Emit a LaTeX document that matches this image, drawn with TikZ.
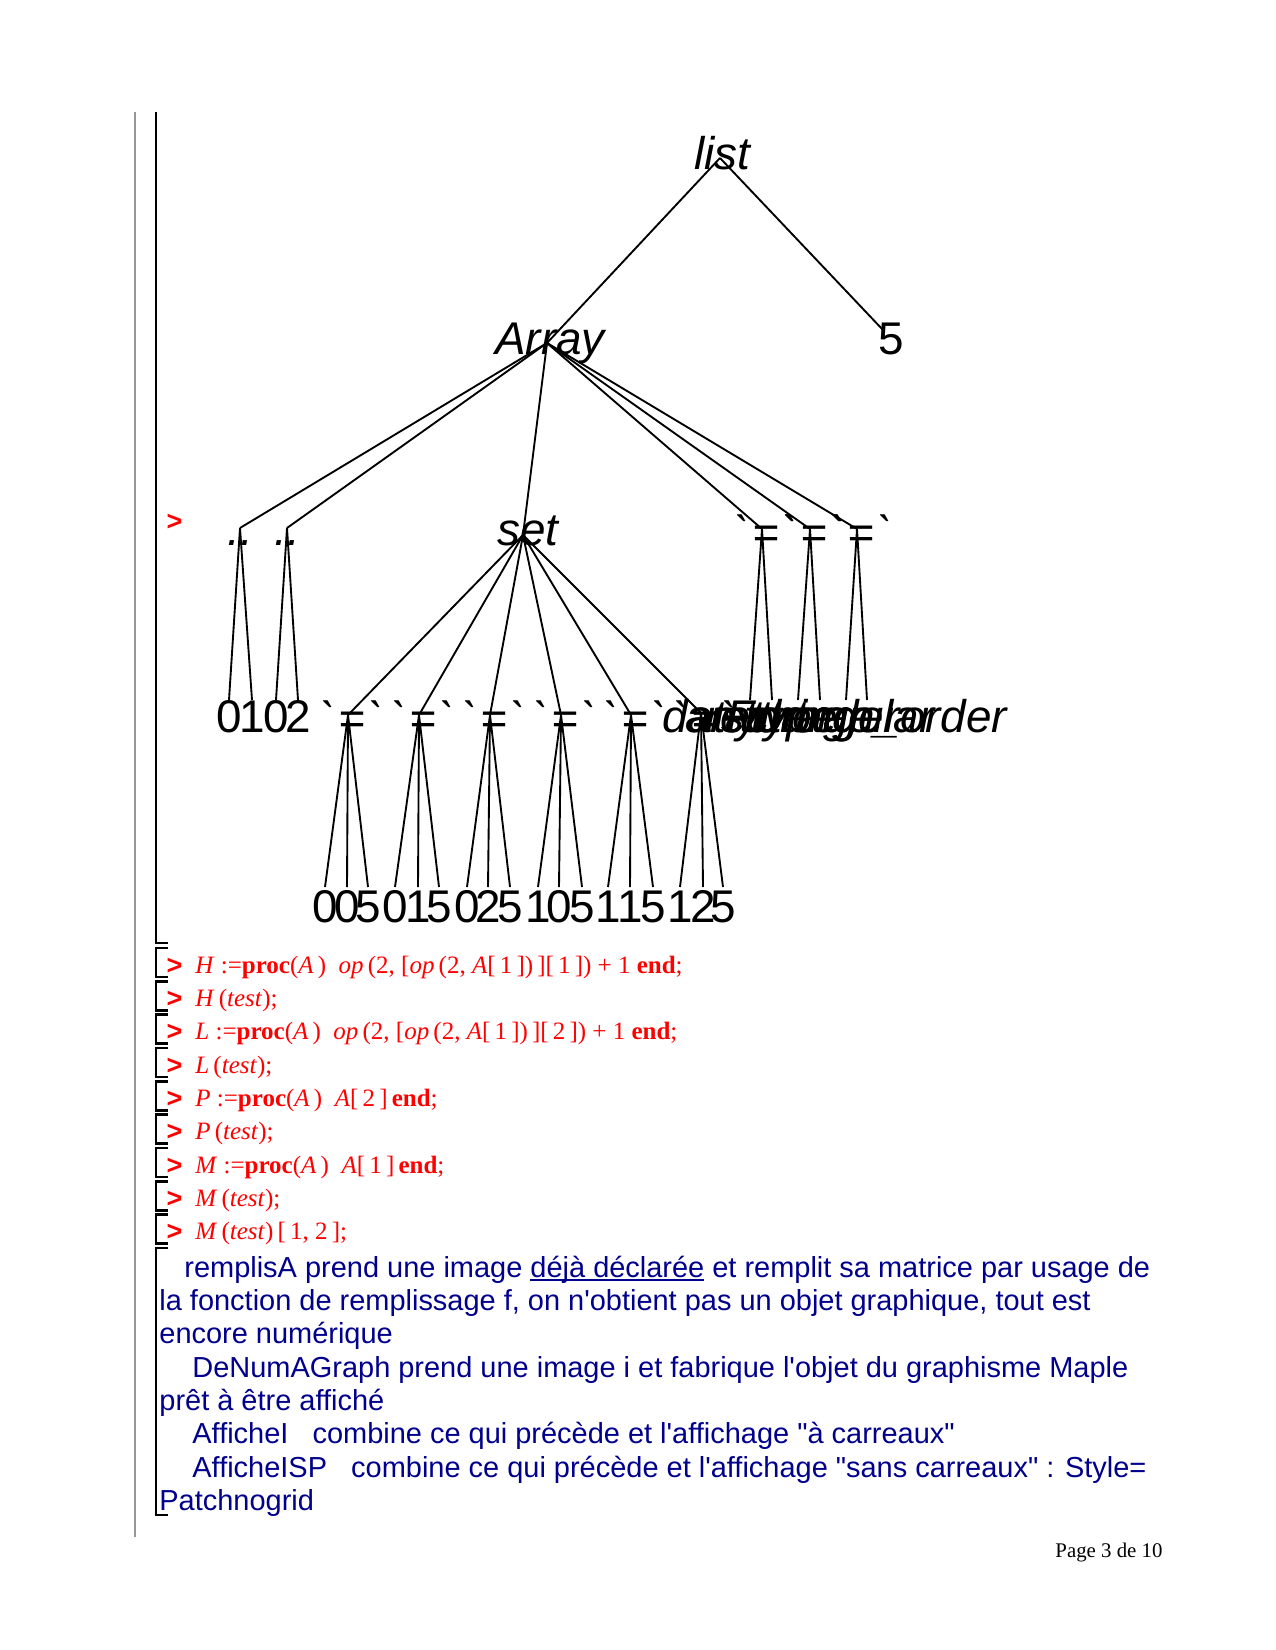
\documentclass[tikz,border=0pt]{standalone}
\usepackage{fontspec}
\newfontfamily\treefont{Liberation Sans}
\newfontfamily\descfont{Liberation Sans}
\newfontfamily\codefont{Liberation Serif}
\newfontfamily\promptfont{Liberation Sans}
\definecolor{navytxt}{RGB}{0,0,140}
\definecolor{mapred}{RGB}{255,0,0}
\definecolor{bargray}{RGB}{150,150,150}
\newcommand{\ulword}[1]{\setbox0\hbox{#1}\rlap{\rule[-1.8pt]{\wd0}{0.8pt}}\box0\relax}
\newcommand{\bteq}{`\kern1.5pt=\kern1.5pt`}
\tikzset{
  edge/.style={line width=0.9pt, black},
  tl/.style={font=\treefont\fontsize{22}{26}\selectfont\itshape, inner sep=0pt, anchor=base},
  tn/.style={font=\treefont\fontsize{22}{26}\selectfont, inner sep=0pt, anchor=base},
  brk/.style={line width=1.2pt, black},
  prompt/.style={font=\promptfont\bfseries\fontsize{13}{15}\selectfont, text=mapred, inner sep=0pt, anchor=center},
  codeline/.style={font=\codefont\fontsize{12}{14}\selectfont, text=mapred, inner sep=0pt, anchor=base west},
  descline/.style={font=\descfont\fontsize{13.9}{16}\selectfont, text=navytxt, inner sep=0pt, anchor=base west},
}
\begin{document}
\begin{tikzpicture}[x=0.48pt,y=-0.48pt]
\fill[white] (0,0) rectangle (1275,1650);
\useasboundingbox (0,0) rectangle (1275,1650);

% side bars
\draw[line width=1.2pt, bargray] (135,112) -- (135,1537);
\draw[brk] (156,112) -- (156,943) -- (168,943);
\foreach \k in {0,...,8} {
  \draw[brk] (168,948+33.33*\k) -- (156,948+33.33*\k) -- (156,977+33.33*\k) -- (168,977+33.33*\k);
}
\draw[brk] (168,1248) -- (156,1248) -- (156,1515) -- (168,1515);

% junction coordinates
\coordinate (list) at (720,158);
\coordinate (arr) at (547,343);
\coordinate (five) at (883,330);
\coordinate (dda) at (240,528);
\coordinate (ddb) at (287,528);
\coordinate (set) at (523,535);
\coordinate (ea) at (762,529);
\coordinate (eb) at (810,529);
\coordinate (ec) at (857,529);
\coordinate (fa) at (348,715);
\coordinate (fb) at (419,715);
\coordinate (fc) at (490,715);
\coordinate (fd) at (561,715);
\coordinate (fe) at (631,715);
\coordinate (ff) at (701,713);
\foreach \n/\x in {la/229,lb/252,lc/276,ld/298,ta/750,tb/772,tc/798,td/820,te/846,tf/867}
  \coordinate (\n) at (\x,700);
\foreach \n/\x in {fa1/325,fa2/347,fa3/368,fb1/395,fb2/418,fb3/439,fc1/467,fc2/488,fc3/510,fd1/538,fd2/559,fd3/582,fe1/608,fe2/630,fe3/653,ff1/680,ff2/703,ff3/723}
  \coordinate (\n) at (\x,887);

% edges
\draw[edge] (list) -- (arr);
\draw[edge] (list) -- (five);
\foreach \c in {dda,ddb,set,ea,eb,ec} \draw[edge] (arr) -- (\c);
\draw[edge] (dda) -- (la); \draw[edge] (dda) -- (lb);
\draw[edge] (ddb) -- (lc); \draw[edge] (ddb) -- (ld);
\draw[edge] (ea) -- (ta); \draw[edge] (ea) -- (tb);
\draw[edge] (eb) -- (tc); \draw[edge] (eb) -- (td);
\draw[edge] (ec) -- (te); \draw[edge] (ec) -- (tf);
\foreach \c in {fa,fb,fc,fd,fe,ff} \draw[edge] (set) -- (\c);
\foreach \p in {fa,fb,fc,fd,fe,ff} \foreach \i in {1,2,3} \draw[edge] (\p) -- (\p\i);

% tree labels
\node[tl] (llist) at (722,170) {list};
\node[tl] (larr) at (550,355) {Array};
\node[tn] (lfive) at (891,355) {5};
\node[tl] (ldda) at (240,545) {..};
\node[tl] (lddb) at (287,545) {..};
\node[tl] (lset) at (528,545) {set};
\foreach \c/\x in {ea/766,eb/814,ec/861} \node[tl] (l\c) at (\x,548) {\bteq};
\foreach \c/\x in {fa/352,fb/423,fc/494,fd/565,fe/635,ff/705} \node[tl] (l\c) at (\x,734) {\bteq};
\foreach \n/\d in {la/0,lb/1,lc/0,ld/2} \path (\n) ++(0,32) node[tn] (l\n) {\d};
\foreach \n/\t in {ta/datatype,tb/anything,tc/storage,td/rectangular,te/order,tf/Fortran\_order}
  \path (\n) ++(0,32) node[tl] (l\n) {\t};
\foreach \n/\d in {fa1/0,fa2/0,fa3/5,fb1/0,fb2/1,fb3/5,fc1/0,fc2/2,fc3/5,fd1/1,fd2/0,fd3/5,fe1/1,fe2/1,fe3/5,ff1/1,ff2/2,ff3/5}
  \path (\n) ++(0,35) node[tn] (l\n) {\d};

% prompts
\node[prompt] (p0) at (174.5,522) {>};
\foreach \k in {1,...,9} \node[prompt] (p\k) at (174.5,966+33.33*\k-33.33) {>};

% code lines
\node[codeline] (c1) at (195,973.3) {\textit{H}\ :=\textbf{proc}(\textit{A}\,)\ \ \textit{op}\,(2, [\textit{op}\,(2, \textit{A}[\,1\,])\,][\,1\,])\ +\ 1\ \textbf{end};};
\node[codeline] (c2) at (195,1006.6) {\textit{H}\,(\textit{test});};
\node[codeline] (c3) at (195,1039.9) {\textit{L}\ :=\textbf{proc}(\textit{A}\,)\ \ \textit{op}\,(2, [\textit{op}\,(2, \textit{A}[\,1\,])\,][\,2\,])\ +\ 1\ \textbf{end};};
\node[codeline] (c4) at (195,1073.3) {\textit{L}\,(\textit{test});};
\node[codeline] (c5) at (195,1106.6) {\textit{P}\ :=\textbf{proc}(\textit{A}\,)\ \ \textit{A}[\,2\,]\,\textbf{end};};
\node[codeline] (c6) at (195,1139.9) {\textit{P}\,(\textit{test});};
\node[codeline] (c7) at (195,1173.3) {\textit{M}\ :=\textbf{proc}(\textit{A}\,)\ \ \textit{A}[\,1\,]\,\textbf{end};};
\node[codeline] (c8) at (195,1206.6) {\textit{M}\,(\textit{test});};
\node[codeline] (c9) at (195,1239.9) {\textit{M}\,(\textit{test})\,[\,1, 2\,];};

% description
\node[descline] (d1) at (184,1277) {remplisA prend une image \ulword{déjà déclarée} et remplit sa matrice par usage de};
\node[descline] (d2) at (159,1310.3) {la fonction de remplissage f, on n'obtient pas un objet graphique, tout est};
\node[descline] (d3) at (159,1343.6) {encore numérique};
\node[descline] (d4) at (192,1377) {DeNumAGraph prend une image i et fabrique l'objet du graphisme Maple};
\node[descline] (d5) at (159,1410.3) {prêt à être affiché};
\node[descline] (d6) at (192,1443.6) {AfficheI\ \ \ combine ce qui précède et l'affichage "à carreaux"};
\node[descline] (d7) at (192,1477) {AfficheISP\ \ \ combine ce qui précède et l'affichage "sans carreaux" : Style=};
\node[descline] (d8) at (159,1510.3) {Patchnogrid};

% footer
\node[font=\codefont\fontsize{10}{12}\selectfont, inner sep=0pt, anchor=base west] (foot) at (1055,1557) {Page 3 de 10};
\end{tikzpicture}
\end{document}
